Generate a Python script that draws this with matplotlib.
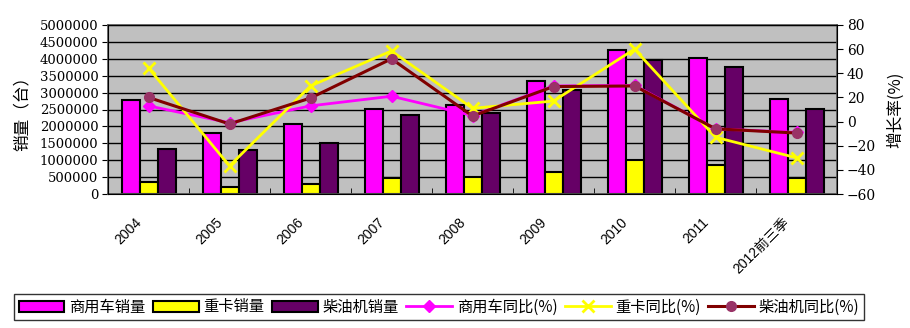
import numpy as np
import matplotlib
matplotlib.use("Agg")
import matplotlib.pyplot as plt
from matplotlib.ticker import FormatStrFormatter
from matplotlib.transforms import ScaledTranslation

plt.rcParams['font.family'] = ['Noto Sans CJK SC', 'DejaVu Sans']

# data
years = ['2004', '2005', '2006', '2007', '2008', '2009', '2010', '2011', '2012前三季']
cv_sales = [2780000, 1800000, 2070000, 2510000, 2630000, 3340000, 4260000, 4020000, 2810000]
hd_sales = [355000, 207000, 296000, 473000, 500000, 650000, 1000000, 858000, 473000]
diesel_sales = [1330000, 1300000, 1510000, 2340000, 2410000, 3080000, 3960000, 3760000, 2510000]
cv_yoy = [13, -1, 13, 21, 5, 29.5, 30, -6, -9]
hd_yoy = [44.4, -36.7, 29.5, 58.5, 11, 17, 60, -13, -30]
diesel_yoy = [20, -2, 19.5, 52, 4.6, 29, 29.5, -6, -9.5]

num_font = ['DejaVu Serif']
cat_font = ['Liberation Sans', 'Noto Sans CJK SC']

fig = plt.figure(figsize=(9.1, 3.28), dpi=100)
ax = fig.add_axes([108 / 910, 1 - 194 / 328, 729 / 910, 169 / 328])
ax.set_facecolor('#C0C0C0')

x = np.arange(len(years))
w = 1 / 4.5
ax.bar(x - w, cv_sales, w, color='#FF00FF', edgecolor='black', linewidth=1.5, label='商用车销量', zorder=2)
ax.bar(x, hd_sales, w, color='#FFFF00', edgecolor='black', linewidth=1.5, label='重卡销量', zorder=2)
ax.bar(x + w, diesel_sales, w, color='#660066', edgecolor='black', linewidth=1.5, label='柴油机销量', zorder=2)

ax.set_xlim(-0.5, len(years) - 0.5)
ax.set_ylim(0, 5000000)
ax.set_yticks(np.arange(0, 5000001, 500000))
ax.yaxis.set_major_formatter(FormatStrFormatter('%d'))
ax.yaxis.grid(True, color='black', linewidth=1)
ax.set_axisbelow(True)
ax.tick_params(axis='y', length=4, direction='out', pad=3)
for t in ax.get_yticklabels():
    t.set_family(num_font)
    t.set_fontsize(9.5)
ax.set_ylabel('销量（台）', fontsize=12, labelpad=6)

ax.set_xticks(x)
ax.set_xticklabels(years, rotation=45, ha='right', va='top', rotation_mode='anchor',
                   fontsize=10, family=cat_font)
ax.tick_params(axis='x', which='major', length=0, pad=15)
shift = ScaledTranslation(-10 / 72, 0, fig.dpi_scale_trans)
for t in ax.get_xticklabels():
    t.set_transform(t.get_transform() + shift)
ax.set_xticks(np.arange(0.5, len(years) - 0.5), minor=True)
ax.tick_params(axis='x', which='minor', length=4, direction='in')
for s in ax.spines.values():
    s.set_color('#555555')
    s.set_linewidth(1.2)

ax2 = ax.twinx()
ax2.set_ylim(-60, 80)
ax2.set_yticks(np.arange(-60, 81, 20))
ax2.tick_params(axis='y', length=4, direction='out', pad=3)
for t in ax2.get_yticklabels():
    t.set_family(num_font)
    t.set_fontsize(10)
ax2.set_ylabel('增长率(%)', fontsize=12, labelpad=8)
ax2.plot(x, cv_yoy, color='#FF00FF', linewidth=2, marker='D', markersize=6, label='商用车同比(%)', zorder=3)
ax2.plot(x, hd_yoy, color='#FFFF00', linewidth=2, marker='x', markersize=9, markeredgewidth=2, label='重卡同比(%)', zorder=3)
ax2.plot(x, diesel_yoy, color='#800000', linewidth=2.2, marker='o', markersize=7,
         markerfacecolor='#993366', markeredgecolor='#993366', label='柴油机同比(%)', zorder=4)

h1, l1 = ax.get_legend_handles_labels()
h2, l2 = ax2.get_legend_handles_labels()
fig.legend(h1 + h2, l1 + l2, loc='center', bbox_to_anchor=(439 / 910, 1 - 307 / 328), ncol=6,
           fontsize=11, frameon=True, fancybox=False, edgecolor='black', handlelength=3.0,
           handletextpad=0.3, columnspacing=0.5, borderpad=0.3)

fig.savefig('out.png', dpi=100)
